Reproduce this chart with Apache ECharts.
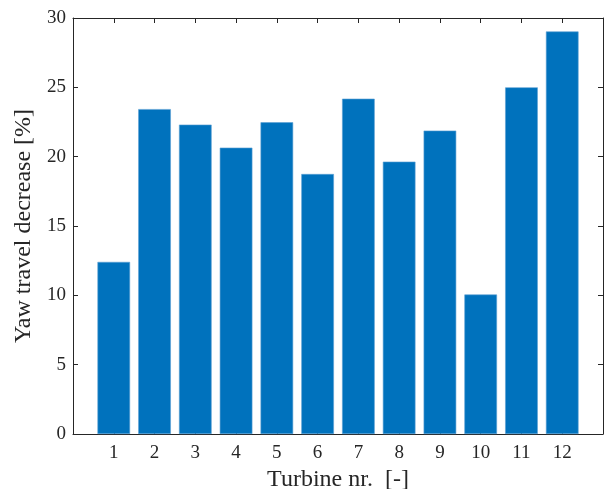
<!DOCTYPE html>
<html>
<head>
<meta charset="utf-8">
<script src="https://cdn.jsdelivr.net/npm/echarts@6/dist/echarts.min.js"></script>
<style>
  html, body { margin: 0; padding: 0; background: #fff; }
  #chart { width: 605px; height: 489px; }
</style>
</head>
<body>
<div id="chart"></div>
<script>
// Turbine numbers and the yaw travel decrease measured for each
const turbines = [1, 2, 3, 4, 5, 6, 7, 8, 9, 10, 11, 12];
const yawDecrease = [12.41, 23.43, 22.31, 20.65, 22.48, 18.75, 24.18, 19.64, 21.88, 10.06, 25.0, 29.03];
const yTicks = [0, 5, 10, 15, 20, 25, 30];

const axisColor = '#262626';
const serif = '"Liberation Serif", "DejaVu Serif", serif';

const barData = turbines.map((t, i) => [t, yawDecrease[i]]);

const chart = echarts.init(document.getElementById('chart'), null, { renderer: 'canvas' });

const xBase = {
  type: 'value', min: 0, max: 13, interval: 1,
  axisLine: { show: true, onZero: false, lineStyle: { color: axisColor, width: 1 } },
  axisTick: { show: true, inside: true, length: 5, lineStyle: { color: axisColor } },
  splitLine: { show: false }
};
const yBase = {
  type: 'value', min: yTicks[0], max: yTicks[yTicks.length - 1], interval: 5,
  axisLine: { show: true, onZero: false, lineStyle: { color: axisColor, width: 1 } },
  axisTick: { show: true, inside: true, length: 5, lineStyle: { color: axisColor } },
  splitLine: { show: false }
};

chart.setOption({
  animation: false,
  grid: { left: 73, right: 2, top: 18, bottom: 55, containLabel: false, outerBoundsMode: 'none' },
  xAxis: [
    Object.assign({}, xBase, {
      position: 'bottom',
      name: 'Turbine nr.  [-]',
      nameLocation: 'middle',
      nameGap: 32,
      nameTextStyle: { fontFamily: serif, fontSize: 24, color: axisColor },
      axisLabel: {
        show: true, margin: 10, fontFamily: serif, fontSize: 19, color: axisColor,
        formatter: v => (turbines.indexOf(v) >= 0 ? String(v) : '')
      }
    }),
    Object.assign({}, xBase, {
      position: 'top',
      axisLabel: { show: false }
    })
  ],
  yAxis: [
    Object.assign({}, yBase, {
      position: 'left',
      name: 'Yaw travel decrease [%]',
      nameLocation: 'middle',
      nameGap: 37,
      nameTextStyle: { fontFamily: serif, fontSize: 24, color: axisColor },
      axisLabel: { show: true, margin: 7, fontFamily: serif, fontSize: 19, color: axisColor }
    }),
    Object.assign({}, yBase, {
      position: 'right',
      axisLabel: { show: false }
    })
  ],
  series: [{
    type: 'bar',
    xAxisIndex: 0,
    yAxisIndex: 0,
    data: barData,
    barWidth: '80%',
    itemStyle: { color: '#0072BD', borderColor: '#5a9fd4', borderWidth: 0.6 },
    silent: true
  }]
});
</script>
</body>
</html>
